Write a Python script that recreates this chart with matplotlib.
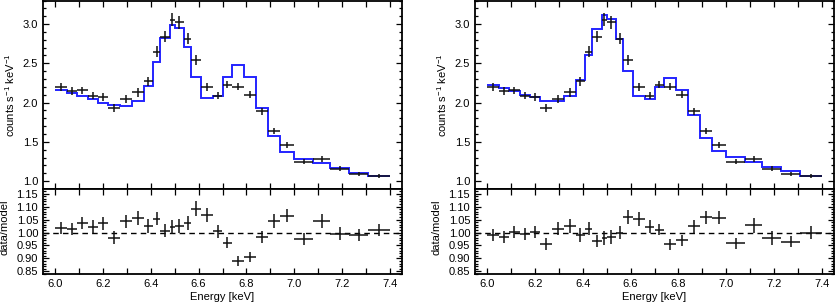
import numpy as np
import matplotlib
matplotlib.use("Agg")
import matplotlib.pyplot as plt
from matplotlib.ticker import MultipleLocator, FormatStrFormatter, NullFormatter

plt.rcParams['font.family'] = ['Liberation Sans', 'DejaVu Sans']
plt.rcParams['mathtext.fontset'] = 'custom'
plt.rcParams['mathtext.rm'] = 'Liberation Sans'
plt.rcParams['mathtext.it'] = 'Liberation Sans'

# Energy bin edges [keV]
bin_edges = [6.00, 6.05, 6.09, 6.14, 6.18, 6.22, 6.27, 6.32, 6.37, 6.41, 6.44,
             6.48, 6.50, 6.54, 6.57, 6.61, 6.66, 6.70, 6.74, 6.79, 6.84, 6.89,
             6.94, 7.00, 7.08, 7.15, 7.23, 7.31, 7.40]

# Observed spectrum (counts s^-1 keV^-1) and 1-sigma errors
counts = [2.20, 2.15, 2.155, 2.09, 2.07, 1.93, 2.045, 2.13, 2.27, 2.65, 2.84,
          3.055, 3.02, 2.81, 2.545, 2.20, 2.09, 2.23, 2.205, 2.10, 1.89, 1.64,
          1.46, 1.25, 1.285, 1.16, 1.09, 1.07]
counts_err = [0.05, 0.05, 0.05, 0.05, 0.05, 0.05, 0.05, 0.055, 0.06, 0.065, 0.07,
              0.085, 0.08, 0.07, 0.065, 0.055, 0.05, 0.05, 0.05, 0.045, 0.045, 0.04,
              0.035, 0.03, 0.035, 0.03, 0.025, 0.025]

# Model A (left panel) and Model B (right panel)
model_left = [2.163, 2.12, 2.08, 2.045, 2.00, 1.97, 1.96, 2.02, 2.215, 2.515, 2.82,
              2.99, 2.95, 2.71, 2.33, 2.06, 2.08, 2.32, 2.48, 2.32, 1.925, 1.57,
              1.37, 1.28, 1.23, 1.165, 1.10, 1.06]
model_right = [2.22, 2.185, 2.15, 2.10, 2.065, 2.02, 2.015, 2.08, 2.29, 2.61, 2.935,
               3.12, 3.07, 2.81, 2.405, 2.09, 2.045, 2.205, 2.31, 2.165, 1.845, 1.55,
               1.38, 1.305, 1.25, 1.185, 1.13, 1.07]

x_ticks = [6.0, 6.2, 6.4, 6.6, 6.8, 7.0, 7.2, 7.4]
counts_ticks = [1.0, 1.5, 2.0, 2.5, 3.0]
ratio_ticks = [0.85, 0.90, 0.95, 1.00, 1.05, 1.10, 1.15]

edges = np.array(bin_edges)
centers = 0.5 * (edges[:-1] + edges[1:])
halfw = 0.5 * (edges[1:] - edges[:-1])
cnt = np.array(counts)
cerr = np.array(counts_err)

W, H = 836, 305
fig = plt.figure(figsize=(W / 100, H / 100), dpi=100)

FS = 8
panel_x = [43, 475]
panel_w = 359
top_y0, top_y1 = 0.5, 189
rat_y1 = 274

def style(ax, ymajor, yminor):
    ax.tick_params(which='both', direction='in', top=True, right=True,
                   labelsize=FS, width=0.9, pad=3.5)
    ax.tick_params(which='major', length=4.5)
    ax.tick_params(axis='y', which='minor', length=2.5)
    ax.tick_params(axis='x', which='minor', length=4.5)
    ax.yaxis.set_major_locator(MultipleLocator(ymajor))
    ax.yaxis.set_minor_locator(MultipleLocator(yminor))
    for s in ax.spines.values():
        s.set_linewidth(1.3)

for px, model in zip(panel_x, [model_left, model_right]):
    mdl = np.array(model)
    ax1 = fig.add_axes([px / W, 1 - top_y1 / H, panel_w / W, (top_y1 - top_y0) / H])
    ax2 = fig.add_axes([px / W, 1 - rat_y1 / H, panel_w / W, (rat_y1 - top_y1) / H])

    ax1.stairs(mdl, edges, baseline=None, color='#2424ff', lw=1.4, zorder=2)
    ax1.errorbar(centers, cnt, xerr=halfw, yerr=cerr, fmt='none',
                 ecolor='#111111', elinewidth=1.1, capsize=0, zorder=3)
    ax1.set_xlim(5.95, 7.45)
    ax1.set_ylim(0.9, 3.3)
    style(ax1, 0.5, 0.1)
    ax1.set_yticks(counts_ticks)
    ax1.yaxis.set_major_formatter(FormatStrFormatter('%.1f'))
    ax1.xaxis.set_major_locator(MultipleLocator(0.1))
    ax1.xaxis.set_major_formatter(NullFormatter())
    ax1.set_ylabel('counts s$^{-1}$ keV$^{-1}$', fontsize=FS)
    ax1.yaxis.set_label_coords(-0.073, 0.5)

    ratio = cnt / mdl
    rerr = cerr / mdl
    ax2.axhline(1.0, color='k', lw=1.0, ls=(0, (4, 3)), zorder=1)
    ax2.errorbar(centers, ratio, xerr=halfw, yerr=rerr, fmt='none',
                 ecolor='#111111', elinewidth=1.1, capsize=0, zorder=3)
    ax2.set_xlim(5.95, 7.45)
    ax2.set_ylim(0.84, 1.168)
    style(ax2, 0.05, 0.01)
    ax2.set_yticks(ratio_ticks)
    ax2.yaxis.set_major_formatter(FormatStrFormatter('%.2f'))
    ax2.set_xticks(x_ticks)
    ax2.xaxis.set_major_formatter(FormatStrFormatter('%.1f'))
    ax2.xaxis.set_minor_locator(MultipleLocator(0.1))
    ax2.set_ylabel('data/model', fontsize=FS)
    ax2.yaxis.set_label_coords(-0.093, 0.55)
    ax2.set_xlabel('Energy [keV]', fontsize=FS, labelpad=2)

fig.savefig('out.png', dpi=100)
